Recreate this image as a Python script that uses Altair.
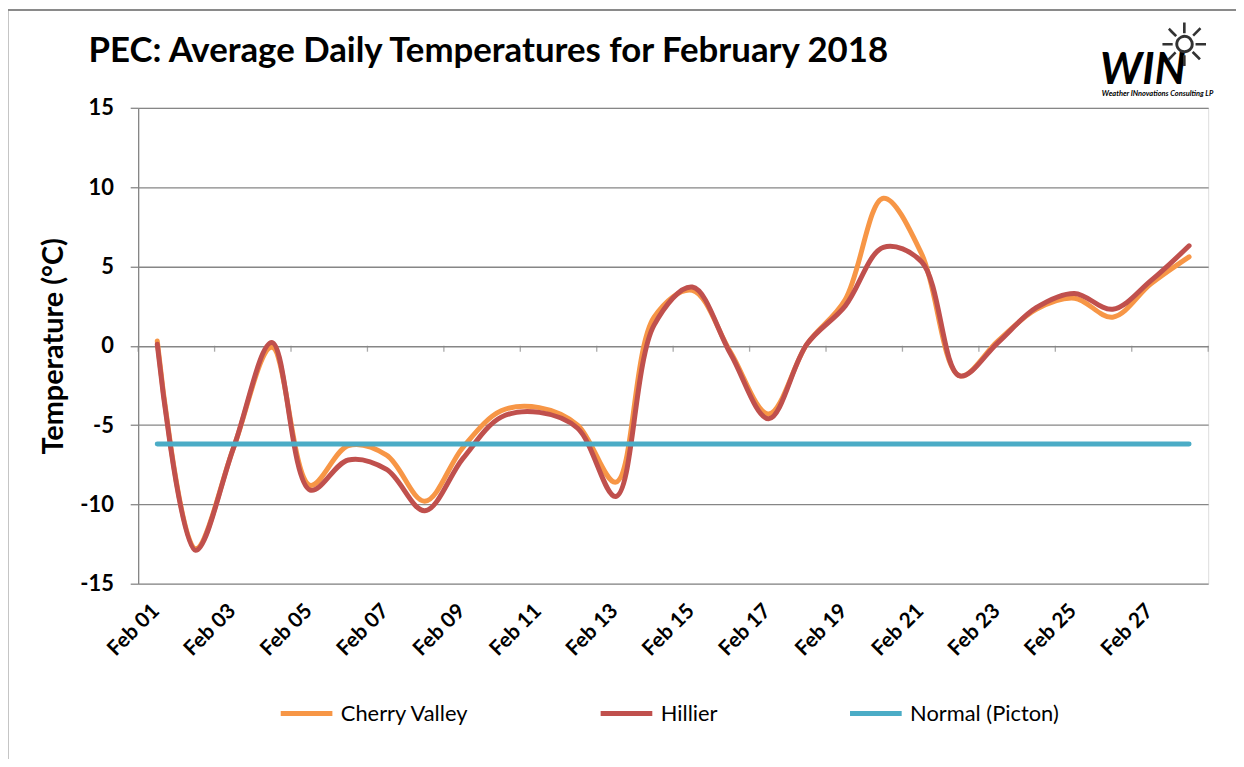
import altair as alt
import pandas as pd

dates = ["Feb 01", "Feb 02", "Feb 03", "Feb 04", "Feb 05", "Feb 06", "Feb 07",
         "Feb 08", "Feb 09", "Feb 10", "Feb 11", "Feb 12", "Feb 13", "Feb 14",
         "Feb 15", "Feb 16", "Feb 17", "Feb 18", "Feb 19", "Feb 20", "Feb 21",
         "Feb 22", "Feb 23", "Feb 24", "Feb 25", "Feb 26", "Feb 27", "Feb 28"]
label_dates = ["Feb 01", "Feb 03", "Feb 05", "Feb 07", "Feb 09", "Feb 11", "Feb 13",
               "Feb 15", "Feb 17", "Feb 19", "Feb 21", "Feb 23", "Feb 25", "Feb 27"]

cherry_valley = [0.3, -12.8, -6.4, -0.1, -8.8, -6.3, -6.9, -9.8, -6.4, -4.1, -3.9, -5.0, -8.6, 1.8,
                 3.5, -0.4, -4.3, 0.1, 2.9, 9.3, 5.8, -1.9, 0.3, 2.3, 3.0, 1.8, 3.9, 5.6]
hillier = [0.1, -12.9, -6.4, 0.2, -9.1, -7.2, -7.8, -10.4, -7.1, -4.5, -4.2, -5.2, -9.5, 1.3,
           3.7, -0.5, -4.6, 0.1, 2.5, 6.2, 5.3, -1.9, 0.2, 2.4, 3.3, 2.3, 4.1, 6.3]
normal_picton = [-6.2, -6.2, -6.2, -6.2, -6.2, -6.2, -6.2, -6.2, -6.2, -6.2, -6.2, -6.2, -6.2, -6.2,
                 -6.2, -6.2, -6.2, -6.2, -6.2, -6.2, -6.2, -6.2, -6.2, -6.2, -6.2, -6.2, -6.2, -6.2]

series_names = ["Cherry Valley", "Hillier", "Normal (Picton)"]
series_colors = ["#F79646", "#C0504D", "#4BACC6"]
y_ticks = [-15, -10, -5, 0, 5, 10, 15]

rows = []
for name, vals in zip(series_names, [cherry_valley, hillier, normal_picton]):
    for i, (d, v) in enumerate(zip(dates, vals)):
        rows.append({"series": name, "date": d, "temp": v, "idx": i})
df = pd.DataFrame(rows)

FONT = "Lato"
GRID = "#868686"

x_scale = alt.Scale(type="band", domain=dates, paddingInner=0, paddingOuter=0)
y_scale = alt.Scale(domain=[-15, 15], nice=False)

x_axis = alt.Axis(values=label_dates, labelAngle=-45, labelAlign="right", labelBaseline="middle",
                  labelFont=FONT, labelFontWeight="bold", labelFontSize=21, labelColor="black",
                  domain=False, ticks=False, grid=False, labelPadding=24, labelOffset=-1, title=None)
y_axis = alt.Axis(values=y_ticks, title="Temperature (°C)", grid=True, gridColor=GRID, gridWidth=1.3,
                  domainColor=GRID, domainWidth=1.3, tickColor=GRID, tickWidth=1.3, tickSize=8,
                  labelExpr="'' + datum.value",
                  labelFont=FONT, labelFontWeight="bold", labelFontSize=22, labelColor="black",
                  labelPadding=17, titleFont=FONT, titleFontWeight="bold", titleFontSize=29,
                  titleColor="black", titlePadding=11)

lines = alt.Chart(df).mark_line(interpolate="catmull-rom", strokeWidth=5, strokeCap="round",
                                strokeJoin="round").encode(
    x=alt.X("date:N", scale=x_scale, axis=x_axis, bandPosition=0.5),
    y=alt.Y("temp:Q", scale=y_scale, axis=y_axis),
    color=alt.Color("series:N", scale=alt.Scale(domain=series_names, range=series_colors),
                    legend=alt.Legend(orient="none", legendX=141, legendY=581, direction="horizontal",
                                      title=None, symbolType="stroke", symbolSize=2704,
                                      symbolStrokeWidth=5, labelFont=FONT, labelFontSize=22,
                                      labelColor="black", labelOffset=6, columnPadding=122)),
    detail="series:N",
    order="idx:Q",
)

tick_df = pd.DataFrame({"date": label_dates})
zero_ticks = alt.Chart(tick_df).mark_tick(orient="vertical", size=6, thickness=1.3, color=GRID,
                                          yOffset=3).encode(
    x=alt.X("date:N", scale=x_scale, bandPosition=0),
    y=alt.datum(0),
)
end_tick = alt.Chart(pd.DataFrame({"date": [dates[-1]]})).mark_tick(
    orient="vertical", size=6, thickness=1.3, color=GRID, yOffset=3).encode(
    x=alt.X("date:N", scale=x_scale, bandPosition=1),
    y=alt.datum(0),
)

logo_df = pd.DataFrame({"t": [0]})
logo_win = alt.Chart(logo_df).mark_text(text="WIN", font=FONT, fontSize=44, fontWeight="bold",
                                        fontStyle="italic", color="black", align="left",
                                        baseline="alphabetic").encode(
    x=alt.value(968), y=alt.value(-24))
logo_sun = alt.Chart(logo_df).mark_text(text="☼", font="DejaVu Sans", fontSize=60, color="#333333",
                                        align="center", baseline="middle").encode(
    x=alt.value(1053), y=alt.value(-60))
logo_sub = alt.Chart(logo_df).mark_text(text="Weather INnovations Consulting LP", font=FONT,
                                        fontSize=7.5, fontWeight="bold", fontStyle="italic",
                                        color="black", align="left", baseline="alphabetic").encode(
    x=alt.value(970), y=alt.value(-12))

frame_top = alt.Chart(logo_df).mark_rule(color="#8A8A8A", strokeWidth=2).encode(
    x=alt.value(-131.5), x2=alt.value(1110), y=alt.value(-98.5))
frame_left = alt.Chart(logo_df).mark_rule(color="#8A8A8A", strokeWidth=2).encode(
    x=alt.value(-131.5), y=alt.value(-98.5), y2=alt.value(670))

chart = alt.layer(frame_top, frame_left, zero_ticks, end_tick, lines,
                  logo_win, logo_sun, logo_sub).properties(
    width=1077, height=479,
    title=alt.TitleParams("PEC: Average Daily Temperatures for February 2018", anchor="start",
                          frame="group", font=FONT, fontSize=35, fontWeight="bold", color="black",
                          dx=-50, baseline="alphabetic", offset=-88),
    autosize=alt.AutoSizeParams(type="none"),
    padding={"left": 131, "top": 98, "right": 28, "bottom": 174},
).configure_view(stroke=None).configure(background="white")

chart.save("out.html", embed_options={"renderer": "svg", "actions": False})
